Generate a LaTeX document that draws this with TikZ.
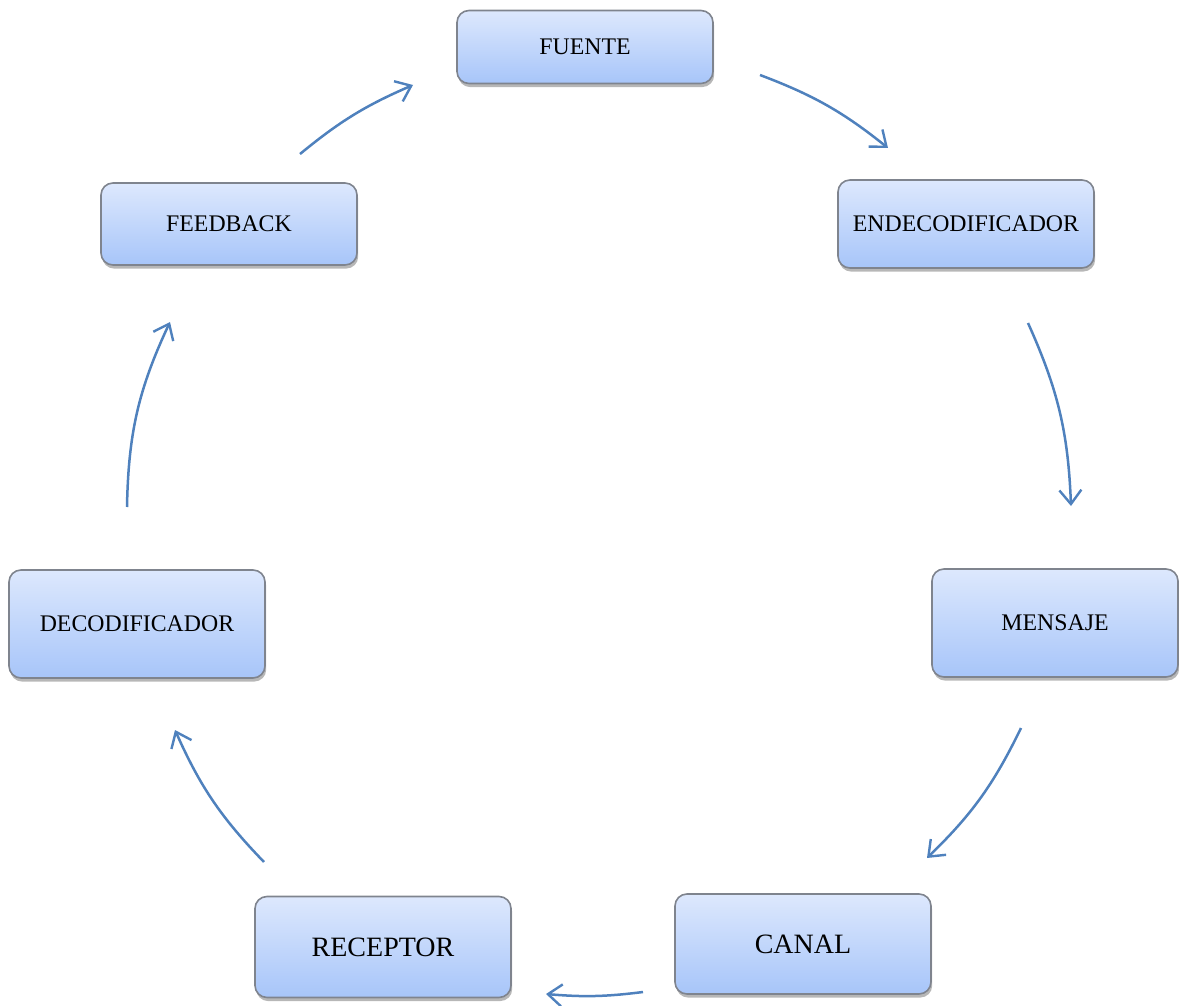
\documentclass[tikz,border=0pt]{standalone}
\usepackage{fontspec}
\setmainfont{Liberation Serif}
\usetikzlibrary{arrows.meta,shadows}
\definecolor{boxtop}{HTML}{DDE8FD}
\definecolor{boxbot}{HTML}{A7C5F9}
\definecolor{bordgray}{HTML}{7F848E}
\definecolor{arrblue}{HTML}{4F81BD}

\begin{document}
\begin{tikzpicture}[
    x=0.5pt, y=0.5pt,
    box/.style={
        rectangle, rounded corners=6pt,
        draw=bordgray, line width=0.8pt,
        top color=boxtop, bottom color=boxbot,
        drop shadow={shadow xshift=0.6pt, shadow yshift=-1.8pt,
                     opacity=0.4, fill=black!70},
        text centered, inner sep=2pt,
        font=\fontsize{11.9}{14}\selectfont,
        minimum width=128pt,
    },
    bigbox/.style={box, font=\fontsize{14}{16}\selectfont},
    arr/.style={-{Straight Barb[length=7pt,width=11pt,line width=1.2pt]},
        line width=1.25pt, color=arrblue},
]

% Frame of the picture
\useasboundingbox (0,0) rectangle (1179,-1006);

% Boxes around the cycle
\node[box, minimum height=36.5pt] (fuente) at (585,-47) {FUENTE};
\node[box, minimum height=44pt] (endec) at (966,-224) {ENDECODIFICADOR};
\node[box, minimum height=54pt, minimum width=123pt] (mensaje) at (1055,-623) {MENSAJE};
\node[bigbox, minimum height=50pt] (canal) at (803,-944) {CANAL};
\node[bigbox, minimum height=50.5pt] (receptor) at (383,-947) {RECEPTOR};
\node[box, minimum height=54pt] (decod) at (137,-624) {DECODIFICADOR};
\node[box, minimum height=41pt] (feedback) at (229,-224) {FEEDBACK};

% Arrow ends on the ring
\coordinate (fuente-out) at (760,-75);
\coordinate (endec-in) at (888,-148);
\coordinate (endec-out) at (1028,-323);
\coordinate (mensaje-in) at (1071,-506);
\coordinate (mensaje-out) at (1021,-728);
\coordinate (canal-in) at (927,-858);
\coordinate (canal-out) at (643,-992);
\coordinate (receptor-in) at (546,-994);
\coordinate (receptor-out) at (264,-862);
\coordinate (decod-in) at (175,-730);
\coordinate (decod-out) at (127,-507);
\coordinate (feedback-in) at (170,-322);
\coordinate (feedback-out) at (300,-154);
\coordinate (fuente-in) at (413,-85);

% Arrows — clockwise
\draw[arr] (fuente-out) to[bend left=9] (endec-in);
\draw[arr] (endec-out) to[bend left=11] (mensaje-in);
\draw[arr] (mensaje-out) to[bend left=10] (canal-in);
\draw[arr] (canal-out) to[bend left=6] (receptor-in);
\draw[arr] (receptor-out) to[bend left=10] (decod-in);
\draw[arr] (decod-out) to[bend left=12] (feedback-in);
\draw[arr] (feedback-out) to[bend left=8] (fuente-in);

\end{tikzpicture}
\end{document}
